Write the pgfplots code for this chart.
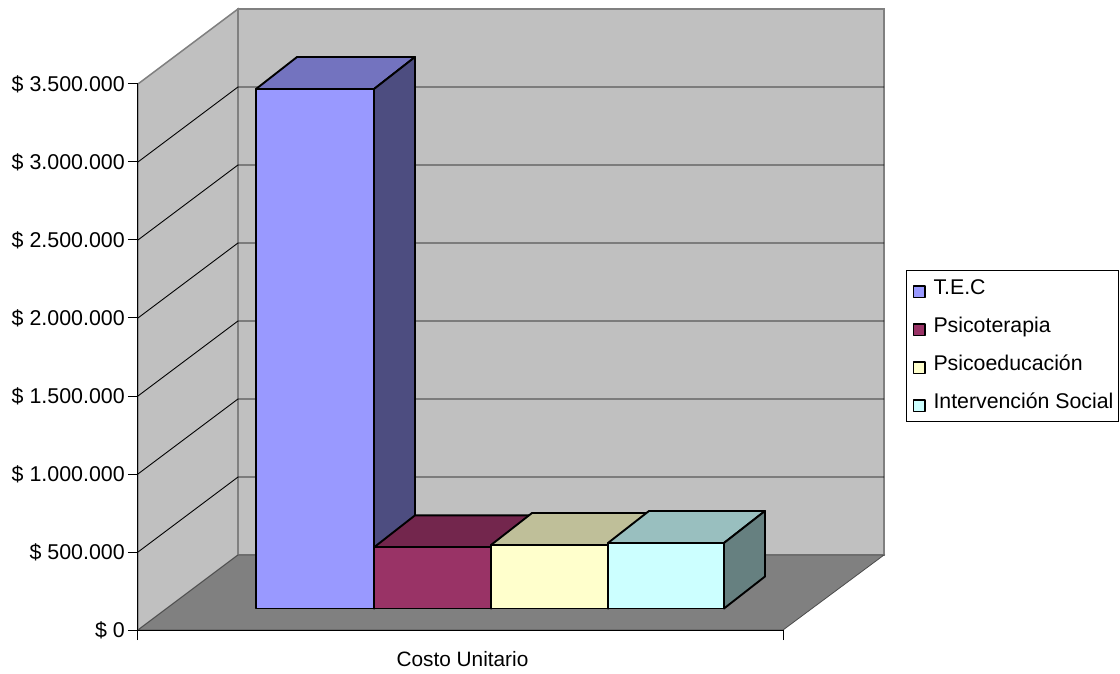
\documentclass[border=0pt]{standalone}
\usepackage{fontspec}
\setmainfont{Liberation Sans}
\usepackage{pgfplots}
\pgfplotsset{compat=1.18}
\definecolor{wallgray}{HTML}{C0C0C0}
\definecolor{walledge}{HTML}{808080}
\definecolor{floorgray}{HTML}{808080}
\definecolor{tecF}{HTML}{9999FF}\definecolor{tecT}{HTML}{7373BF}\definecolor{tecS}{HTML}{4D4D80}
\definecolor{psiF}{HTML}{993366}\definecolor{psiT}{HTML}{73264D}\definecolor{psiS}{HTML}{4D1A33}
\definecolor{eduF}{HTML}{FFFFCC}\definecolor{eduT}{HTML}{BFBF99}\definecolor{eduS}{HTML}{808066}
\definecolor{socF}{HTML}{CCFFFF}\definecolor{socT}{HTML}{99BFBF}\definecolor{socS}{HTML}{668080}
% Oblique depth of the room and of the bars, with y in thousands of pesos
% (one horizontal unit of x is one point; 6.41026 y units make one point).
\newcommand{\roomdepth}{480.77}
\newcommand{\roomtop}{3980.77}
\newcommand{\barbase}{137.82}
\newcommand{\bardy}{205.13}
\newcommand{\bardx}{41}
\tikzset{barface/.style={draw=black,line width=1.9pt,line join=round}}
% #1 left, #2 right, #3 value (thousands), #4 front, #5 top, #6 side
\newcommand{\threedbar}[6]{%
  \pgfmathsetmacro\ytop{\barbase+#3}%
  \pgfmathsetmacro\ybaseb{\barbase+\bardy}%
  \pgfmathsetmacro\ytopb{\ytop+\bardy}%
  \pgfmathsetmacro\lb{#1+\bardx}%
  \pgfmathsetmacro\rb{#2+\bardx}%
  \addplot[barface,fill=#5,forget plot] coordinates {(#1,\ytop) (\lb,\ytopb) (\rb,\ytopb) (#2,\ytop)} --cycle;
  \addplot[barface,fill=#6,forget plot] coordinates {(#2,\barbase) (\rb,\ybaseb) (\rb,\ytopb) (#2,\ytop)} --cycle;
  \addplot[barface,fill=#4] coordinates {(#1,\barbase) (#2,\barbase) (#2,\ytop) (#1,\ytop)} --cycle;
}
\begin{document}
\begin{tikzpicture}[x=1pt,y=1pt]
\path[use as bounding box] (-138,-43) rectangle (982,630);
\begin{axis}[
  at={(0,0)},anchor=origin,
  scale only axis,width=645pt,height=546pt,
  xmin=138,xmax=783,ymin=0,ymax=3500,
  clip=false,axis on top=true,
  axis x line=bottom,axis y line=left,
  axis line style={-,black,line width=1pt},
  tick style={black,line width=1pt},
  major tick length=10pt,tick align=outside,
  xtick={138,783},xticklabels={,},
  xlabel={Costo Unitario},
  xlabel style={at={(axis cs:462.5,-185)},anchor=center},
  ytick={0,500,1000,1500,2000,2500,3000,3500},
  yticklabels={\$ 0,\$ 500.000,\$ 1.000.000,\$ 1.500.000,\$ 2.000.000,\$ 2.500.000,\$ 3.000.000,\$ 3.500.000},
  tick label style={font=\fontsize{21.4}{24}\selectfont},
  label style={font=\fontsize{20.8}{24}\selectfont},
  yticklabel style={inner sep=3pt},
  legend style={
    at={(axis cs:905.5,2304.5)},anchor=north west,
    draw=black,line width=1pt,fill=white,
    font=\fontsize{21.3}{24}\selectfont,
    inner xsep=5pt,inner ysep=8.5pt,
    row sep=18pt,
    nodes={inner xsep=0pt,inner ysep=0pt,text height=15pt,text depth=5pt},
  },
  legend cell align=left,
  legend image code/.code={\path[draw=none,fill=none] (0pt,0pt) -- (22.5pt,0pt);\draw[line width=1.5pt,#1] (2.5pt,-8pt) rectangle (14pt,3.5pt);},
]
% room: walls, floor
\addplot[fill=wallgray,draw=walledge,line width=1.5pt,forget plot] coordinates {(138,0) (238,\roomdepth) (238,\roomtop) (138,3500)} --cycle;
\addplot[fill=wallgray,draw=walledge,line width=1.5pt,forget plot] coordinates {(238,\roomdepth) (884,\roomdepth) (884,\roomtop) (238,\roomtop)} --cycle;
\addplot[fill=floorgray,draw=black!70,line width=0.8pt,forget plot] coordinates {(138,0) (238,\roomdepth) (884,\roomdepth) (783,0)} --cycle;
% gridlines on the left and back walls
\addplot[black,line width=0.9pt,forget plot] coordinates {(138,500) (238,980.77) (884,980.77)};
\addplot[black,line width=0.9pt,forget plot] coordinates {(138,1000) (238,1480.77) (884,1480.77)};
\addplot[black,line width=0.9pt,forget plot] coordinates {(138,1500) (238,1980.77) (884,1980.77)};
\addplot[black,line width=0.9pt,forget plot] coordinates {(138,2000) (238,2480.77) (884,2480.77)};
\addplot[black,line width=0.9pt,forget plot] coordinates {(138,2500) (238,2980.77) (884,2980.77)};
\addplot[black,line width=0.9pt,forget plot] coordinates {(138,3000) (238,3480.77) (884,3480.77)};
% bars
\threedbar{256}{374}{3330}{tecF}{tecT}{tecS}
\addlegendentry{T.E.C}
\threedbar{374}{491}{392}{psiF}{psiT}{psiS}
\addlegendentry{Psicoterapia}
\threedbar{491}{608}{407}{eduF}{eduT}{eduS}
\addlegendentry{Psicoeducación}
\threedbar{608}{724}{420}{socF}{socT}{socS}
\addlegendentry{Intervención Social}
\end{axis}
\end{tikzpicture}
\end{document}
